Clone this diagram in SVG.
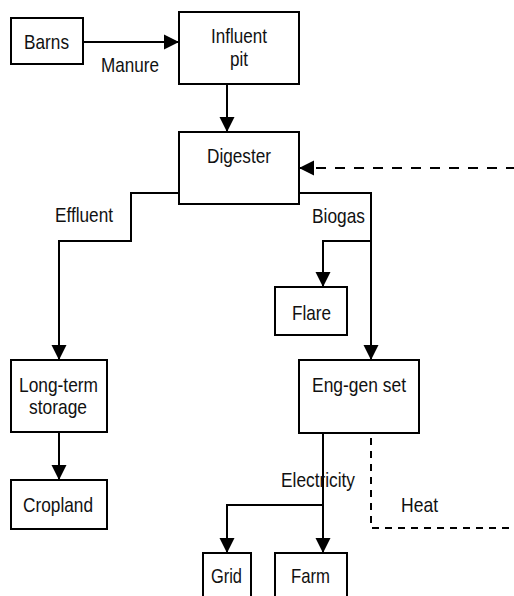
<svg xmlns="http://www.w3.org/2000/svg" width="514" height="596" viewBox="0 0 514 596">
<style>
.box{fill:#fff;stroke:#000;stroke-width:2}
.ln{fill:none;stroke:#000;stroke-width:2}
.dsh{fill:none;stroke:#000;stroke-width:2;stroke-dasharray:10 9}
.dsh2{fill:none;stroke:#000;stroke-width:2;stroke-dasharray:7 6}
text{font-family:"Liberation Sans",Arial,sans-serif;font-size:21px;fill:#111}
</style>
<defs>
<marker id="ah" markerUnits="userSpaceOnUse" markerWidth="16" markerHeight="16" viewBox="0 0 16 16" refX="15" refY="8" orient="auto">
<path d="M0,0.5 L15,8 L0,15.5 Z" fill="#000"/>
</marker>
</defs>
<g id="connectors">
<path class="ln" d="M83,42 H179" marker-end="url(#ah)"/>
<path class="ln" d="M227,84 V132" marker-end="url(#ah)"/>
<path class="ln" d="M179,193 H131 V241 H59 V360" marker-end="url(#ah)"/>
<path class="ln" d="M299,193 H371 V360" marker-end="url(#ah)"/>
<path class="ln" d="M371,241 H323 V287" marker-end="url(#ah)"/>
<path class="ln" d="M59,432 V480" marker-end="url(#ah)"/>
<path class="ln" d="M323,433 V553" marker-end="url(#ah)"/>
<path class="ln" d="M323,505 H227 V553" marker-end="url(#ah)"/>
<path class="dsh2" d="M371,438 V528 H516"/>
<path class="dsh" d="M516,168 H299" marker-end="url(#ah)"/>
<text x="101" y="72" textLength="58" lengthAdjust="spacingAndGlyphs">Manure</text>
<text x="55" y="222" textLength="58" lengthAdjust="spacingAndGlyphs">Effluent</text>
<text x="312" y="223" textLength="53" lengthAdjust="spacingAndGlyphs">Biogas</text>
<text x="281" y="487" textLength="74" lengthAdjust="spacingAndGlyphs">Electricity</text>
<text x="401" y="512" textLength="37" lengthAdjust="spacingAndGlyphs">Heat</text>
</g>
<g id="barns">
<rect class="box" x="11" y="18" width="72" height="46"/>
<text x="24" y="49" textLength="45" lengthAdjust="spacingAndGlyphs">Barns</text>
</g>
<g id="influent">
<rect class="box" x="179" y="12" width="120" height="72"/>
<text x="211" y="43" textLength="56" lengthAdjust="spacingAndGlyphs">Influent</text>
<text x="230" y="66" textLength="18" lengthAdjust="spacingAndGlyphs">pit</text>
</g>
<g id="digester">
<rect class="box" x="179" y="132" width="120" height="72"/>
<text x="207" y="163" textLength="64" lengthAdjust="spacingAndGlyphs">Digester</text>
</g>
<g id="flare">
<rect class="box" x="275" y="287" width="72" height="48"/>
<text x="292" y="320" textLength="39" lengthAdjust="spacingAndGlyphs">Flare</text>
</g>
<g id="longterm">
<rect class="box" x="11" y="360" width="96" height="72"/>
<text x="19" y="392" textLength="79" lengthAdjust="spacingAndGlyphs">Long-term</text>
<text x="29" y="414" textLength="58" lengthAdjust="spacingAndGlyphs">storage</text>
</g>
<g id="enggen">
<rect class="box" x="299" y="360" width="120" height="73"/>
<text x="312" y="392" textLength="94" lengthAdjust="spacingAndGlyphs">Eng-gen set</text>
</g>
<g id="cropland">
<rect class="box" x="11" y="480" width="96" height="49"/>
<text x="23" y="512" textLength="70" lengthAdjust="spacingAndGlyphs">Cropland</text>
</g>
<g id="grid">
<rect class="box" x="203" y="553" width="48" height="50"/>
<text x="211" y="583" textLength="31" lengthAdjust="spacingAndGlyphs">Grid</text>
</g>
<g id="farm">
<rect class="box" x="275" y="553" width="72" height="50"/>
<text x="291" y="583" textLength="39" lengthAdjust="spacingAndGlyphs">Farm</text>
</g>
</svg>
